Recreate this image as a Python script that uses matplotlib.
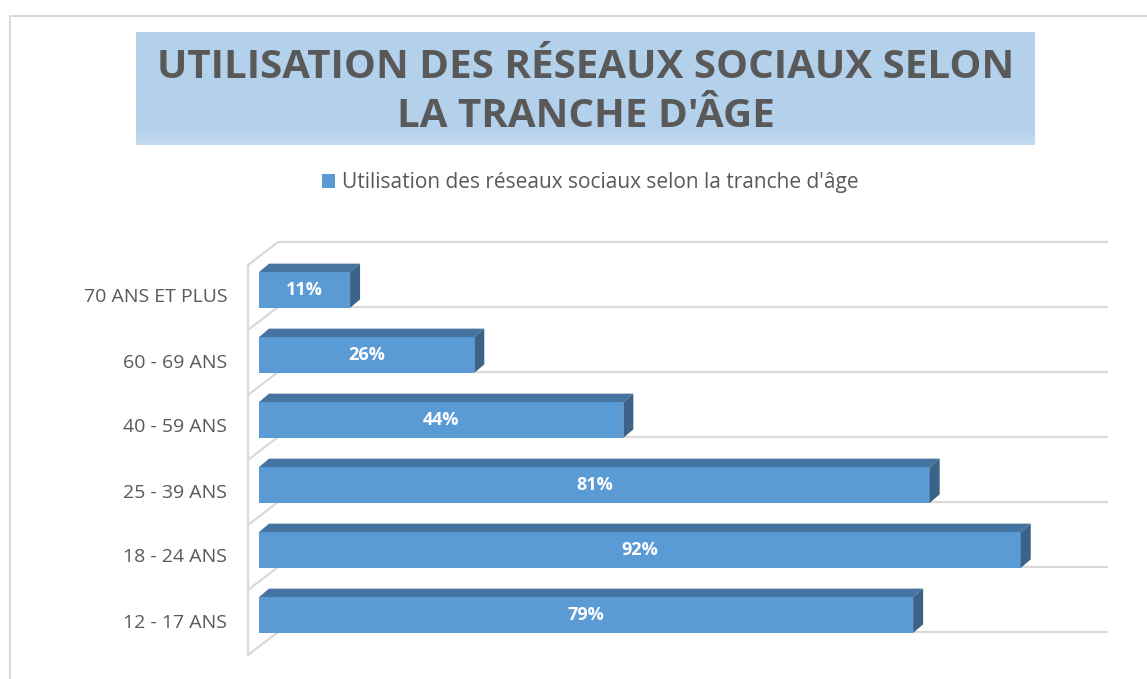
import numpy as np
import matplotlib
matplotlib.use("Agg")
import matplotlib.pyplot as plt
from matplotlib.patches import Rectangle, Polygon

# données
categories = ["12 - 17 ANS", "18 - 24 ANS", "25 - 39 ANS", "40 - 59 ANS", "60 - 69 ANS", "70 ANS ET PLUS"]
valeurs = [79, 92, 81, 44, 26, 11]
titre = "UTILISATION DES RÉSEAUX SOCIAUX SELON\nLA TRANCHE D'ÂGE"
legende = "Utilisation des réseaux sociaux selon la tranche d'âge"

W, H = 1147, 679
plt.rcParams['font.family'] = ['Open Sans', 'DejaVu Sans']
GRIS_TXT = "#595959"
GRIS_LIGNE = "#D9D9D9"
BLEU = "#5B9BD5"
BLEU_HAUT = "#4674A0"
BLEU_COTE = "#3B6388"

fig = plt.figure(figsize=(W / 100, H / 100), dpi=100)
fig.patch.set_facecolor("white")

# cadre extérieur du graphique
fig.patches.append(Rectangle((10 / W, -0.1), 1.2, 1 - 16 / H + 0.1, transform=fig.transFigure,
                             fill=False, edgecolor=GRIS_LIGNE, lw=1.5))

# bandeau du titre (dégradé léger en bas)
ax_t = fig.add_axes([136 / W, 1 - 145 / H, (1035 - 136) / W, 113 / H])
grad = np.ones((100, 1))
grad[85:] = np.linspace(1, 0.3, 15)[:, None]
c_top = np.array([180, 209, 236]) / 255
c_bot = np.array([205, 224, 243]) / 255
img = grad[:, :, None] * c_top + (1 - grad[:, :, None]) * c_bot
ax_t.imshow(img, aspect="auto", extent=[0, 1, 0, 1])
ax_t.axis("off")
ax_t.text(0.5, 0.47, titre, ha="center", va="center", fontsize=29, fontweight="bold",
          color=GRIS_TXT, linespacing=1.32, transform=ax_t.transAxes)

# zone de tracé
ax = fig.add_axes([259 / W, (H - 647.5) / H, 828 / W, 390 / H])
ax.set_xlim(0, 100)
ax.set_ylim(-0.5, 5.5)
ax.axis("off")

# profondeur 3D en unités de données
px_x = 828 / 100
px_y = 65
avant = (-11 / px_x, -7.5 / px_y)
arriere = (19 / px_x, 15.5 / px_y)
prof = (10 / px_x, 8.5 / px_y)

# murs et quadrillage
y_bords = np.arange(len(categories) + 1) - 0.5
for b in y_bords:
    ax.plot([avant[0], arriere[0]], [b + avant[1], b + arriere[1]], color=GRIS_LIGNE, lw=1.6,
            clip_on=False, zorder=1, solid_capstyle="butt")
    ax.plot([arriere[0], 100 + arriere[0] + 0.3], [b + arriere[1], b + arriere[1]], color=GRIS_LIGNE,
            lw=1.6, clip_on=False, zorder=1, solid_capstyle="butt")
ax.plot([avant[0], avant[0]], [y_bords[0] + avant[1], y_bords[-1] + avant[1]], color=GRIS_LIGNE,
        lw=1.6, clip_on=False, zorder=1)

# barres 3D
hb = 0.55
y = np.arange(len(categories))
barres = ax.barh(y, valeurs, height=hb, color=BLEU, zorder=3, label=legende)
for yi, v in zip(y, valeurs):
    haut = yi + hb / 2
    bas = yi - hb / 2
    ax.add_patch(Polygon([(0, haut), (v, haut), (v + prof[0], haut + prof[1]), (prof[0], haut + prof[1])],
                         closed=True, facecolor=BLEU_HAUT, edgecolor="none", zorder=3, clip_on=False))
    ax.add_patch(Polygon([(v, bas), (v + prof[0], bas + prof[1]), (v + prof[0], haut + prof[1]), (v, haut)],
                         closed=True, facecolor=BLEU_COTE, edgecolor="none", zorder=3, clip_on=False))
    ax.text(v / 2, yi, f"{v}%", ha="center", va="center", color="white", fontsize=13,
            fontweight="bold", zorder=4)

# étiquettes des catégories (sur le plan avant)
for yi, c in zip(y, categories):
    ax.annotate(c, xy=(0, yi + avant[1]), xytext=(-32 * 0.72, 0), textcoords="offset points",
                ha="right", va="center", fontsize=14, color=GRIS_TXT, annotation_clip=False)

# légende
leg = fig.legend(handles=[barres], labels=[legende], loc="center", bbox_to_anchor=(590 / W, 1 - 183 / H),
                 frameon=False, fontsize=15, handlelength=0.65, handleheight=0.65, handletextpad=0.3,
                 labelcolor=GRIS_TXT)

fig.savefig("out.png", dpi=100, facecolor="white")
